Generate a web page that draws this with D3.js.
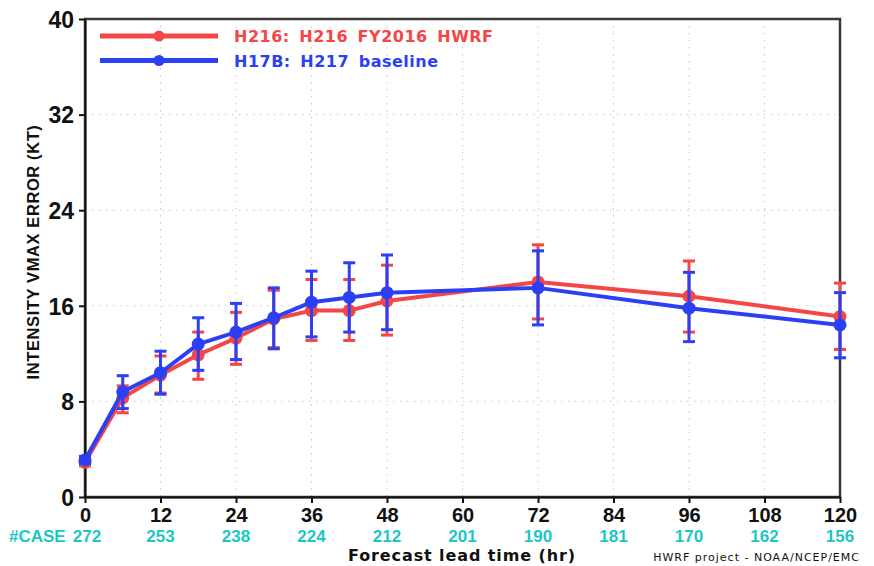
<!DOCTYPE html>
<html lang="en">
  <head>
    <meta charset="UTF-8" />
    <script src="https://d3js.org/d3.v7.min.js"></script>
    <title>HWRF intensity error</title>
    <style>
      body { margin: 0; background: #fff; }
      text { font-family: "Liberation Sans", Arial, sans-serif; }
      .legend text { font-family: "DejaVu Sans", sans-serif; font-weight: bold; }
    </style>
  </head>
  <body>
    <svg id="chart" width="874" height="566"></svg>
    <script>
      const width = 874;
      const height = 566;
      const margin = { top: 19, right: 34, bottom: 69, left: 85 };

      // forecast hours with verification
      const hours = [0, 6, 12, 18, 24, 30, 36, 42, 48, 72, 96, 120];

      // H216 (red)
      const h216 = [2.9, 8.3, 10.2, 11.9, 13.3, 14.9, 15.6, 15.6, 16.4, 18.0, 16.8, 15.1];
      const h216Lo = [2.6, 7.05, 8.7, 9.85, 11.1, 12.5, 13.1, 13.1, 13.55, 14.9, 13.8, 12.35];
      const h216Hi = [3.2, 9.3, 11.8, 13.8, 15.45, 17.3, 18.2, 18.2, 19.4, 21.1, 19.75, 17.9];

      // H17B (blue)
      const h17b = [3.1, 8.8, 10.4, 12.8, 13.8, 15.0, 16.3, 16.7, 17.1, 17.5, 15.8, 14.4];
      const h17bLo = [2.8, 7.4, 8.6, 10.6, 11.5, 12.4, 13.4, 13.8, 14.0, 14.4, 13.0, 11.65];
      const h17bHi = [3.4, 10.15, 12.2, 15.0, 16.2, 17.5, 18.9, 19.6, 20.25, 20.6, 18.8, 17.1];

      const xTicks = [0, 12, 24, 36, 48, 60, 72, 84, 96, 108, 120];
      const yTicks = [0, 8, 16, 24, 32, 40];
      const cases = [272, 253, 238, 224, 212, 201, 190, 181, 170, 162, 156];

      const series = [
        { name: "H216: H216 FY2016 HWRF", color: "#f54646", mean: h216, lo: h216Lo, hi: h216Hi },
        { name: "H17B: H217 baseline", color: "#2b3ff5", mean: h17b, lo: h17bLo, hi: h17bHi }
      ];

      const svg = d3.select("#chart");

      const x = d3.scaleLinear().domain([0, 120]).range([margin.left, width - margin.right]);
      const y = d3.scaleLinear().domain([0, 40]).range([height - margin.bottom, margin.top]);

      // dotted grid
      const grid = svg.append("g").attr("stroke", "#c8c8c8").attr("stroke-width", 1)
        .attr("stroke-dasharray", "1.5,5.5");
      grid.selectAll(".vg")
        .data(xTicks.slice(1, -1))
        .join("line")
        .attr("x1", d => x(d)).attr("x2", d => x(d))
        .attr("y1", y(40)).attr("y2", y(0));
      grid.selectAll(".hg")
        .data(yTicks.slice(1, -1))
        .join("line")
        .attr("x1", x(0)).attr("x2", x(120))
        .attr("y1", d => y(d)).attr("y2", d => y(d));

      // frame
      svg.append("rect")
        .attr("x", x(0)).attr("y", y(40))
        .attr("width", x(120) - x(0)).attr("height", y(0) - y(40))
        .attr("fill", "none").attr("stroke", "#3a3a3a").attr("stroke-width", 2.5);

      // axes
      const xAxis = svg.append("g")
        .attr("transform", `translate(0,${y(0)})`)
        .call(d3.axisBottom(x).tickValues(xTicks).tickSize(6).tickSizeOuter(0));
      xAxis.select(".domain").attr("stroke", "#111").attr("stroke-width", 2);
      xAxis.selectAll(".tick line").attr("stroke", "#111").attr("stroke-width", 2);
      xAxis.selectAll(".tick text")
        .attr("fill", "#111")
        .attr("y", 25)
        .attr("dy", 0)
        .style("font-size", "20px")
        .style("font-weight", "bold");

      const yAxis = svg.append("g")
        .attr("transform", `translate(${x(0)},0)`)
        .call(d3.axisLeft(y).tickValues(yTicks).tickSize(6).tickSizeOuter(0));
      yAxis.select(".domain").attr("stroke", "#111").attr("stroke-width", 2);
      yAxis.selectAll(".tick line").attr("stroke", "#111").attr("stroke-width", 2);
      yAxis.selectAll(".tick text")
        .attr("fill", "#111")
        .attr("x", -11)
        .attr("dy", "0.36em")
        .style("font-size", "23px")
        .style("font-weight", "bold");

      // case counts
      svg.append("g").selectAll("text")
        .data(xTicks)
        .join("text")
        .attr("x", d => x(d) + (d === 0 ? 2 : 0))
        .attr("y", 542)
        .attr("text-anchor", "middle")
        .attr("fill", "#1cc6c6")
        .style("font-size", "17px")
        .style("font-weight", "bold")
        .text((d, i) => cases[i]);
      svg.append("text")
        .attr("x", 9).attr("y", 542)
        .attr("fill", "#1cc6c6")
        .style("font-size", "17px")
        .style("font-weight", "bold")
        .text("#CASE");

      // series
      const line = d3.line().x((d, i) => x(hours[i])).y(d => y(d));
      series.forEach(s => {
        const g = svg.append("g");
        g.append("path")
          .datum(s.mean)
          .attr("d", line)
          .attr("fill", "none")
          .attr("stroke", s.color)
          .attr("stroke-width", 4)
          .attr("stroke-linejoin", "round");
        const eb = g.selectAll(".eb").data(hours).join("g").attr("stroke", s.color).attr("stroke-width", 3);
        eb.append("line")
          .attr("x1", d => x(d)).attr("x2", d => x(d))
          .attr("y1", (d, i) => y(s.lo[i])).attr("y2", (d, i) => y(s.hi[i]));
        eb.append("line")
          .attr("x1", d => x(d) - 6).attr("x2", d => x(d) + 6)
          .attr("y1", (d, i) => y(s.lo[i])).attr("y2", (d, i) => y(s.lo[i]));
        eb.append("line")
          .attr("x1", d => x(d) - 6).attr("x2", d => x(d) + 6)
          .attr("y1", (d, i) => y(s.hi[i])).attr("y2", (d, i) => y(s.hi[i]));
        g.selectAll("circle")
          .data(s.mean)
          .join("circle")
          .attr("cx", (d, i) => x(hours[i]))
          .attr("cy", d => y(d))
          .attr("r", 6.5)
          .attr("fill", s.color);
      });

      // legend
      const legend = svg.append("g").attr("class", "legend");
      series.forEach((s, i) => {
        const ly = 36 + i * 24.5;
        legend.append("line")
          .attr("x1", 100).attr("x2", 218).attr("y1", ly).attr("y2", ly)
          .attr("stroke", s.color).attr("stroke-width", 5);
        legend.append("circle")
          .attr("cx", 159).attr("cy", ly).attr("r", 5.5).attr("fill", s.color);
        legend.append("text")
          .attr("x", 234).attr("y", ly + 6)
          .attr("fill", s.color)
          .style("font-size", "16px")
          .style("letter-spacing", "0.5px")
          .style("word-spacing", "3.5px")
          .text(s.name);
      });

      // axis titles
      svg.append("text")
        .attr("transform", `translate(39,252) rotate(-90)`)
        .attr("text-anchor", "middle")
        .attr("fill", "#111")
        .style("font-size", "16.5px")
        .style("font-weight", "bold")
        .style("letter-spacing", "0.6px")
        .text("INTENSITY VMAX ERROR (KT)");

      svg.append("text")
        .attr("x", 462).attr("y", 561)
        .attr("text-anchor", "middle")
        .attr("fill", "#111")
        .style("font-family", "'DejaVu Sans', sans-serif")
        .style("font-size", "16px")
        .style("font-weight", "bold")
        .style("letter-spacing", "0.9px")
        .text("Forecast lead time (hr)");

      svg.append("text")
        .attr("x", 860).attr("y", 561)
        .attr("text-anchor", "end")
        .attr("fill", "#111")
        .style("font-family", "'DejaVu Sans', sans-serif")
        .style("font-size", "11px")
        .style("letter-spacing", "1px")
        .text("HWRF project - NOAA/NCEP/EMC");
    </script>
  </body>
</html>
